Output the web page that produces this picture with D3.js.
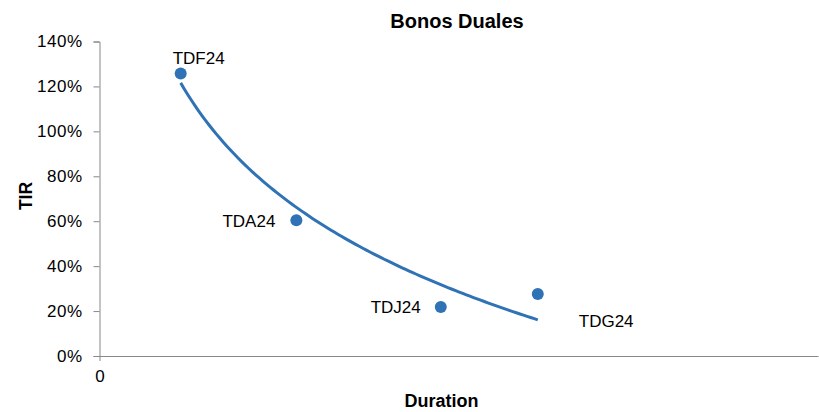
<!DOCTYPE html>
<html>
<head>
<meta charset="utf-8">
<script src="https://cdn.jsdelivr.net/npm/d3@7"></script>
<style>
  body { margin: 0; background: #fff; }
  text { font-family: "Liberation Sans", Arial, Helvetica, sans-serif; fill: #000; }
</style>
</head>
<body>
<div id="chart"></div>
<script>
"use strict";

// bonos duales: duration (years) vs TIR
let bonds = ["TDF24", "TDA24", "TDJ24", "TDG24"];
let duration = [0.113, 0.274, 0.475, 0.610];
let tir = [1.258, 0.604, 0.218, 0.276];
let yTicks = [0, 0.2, 0.4, 0.6, 0.8, 1.0, 1.2, 1.4];
let xTicks = [0];

let width = 819, height = 412;
let margin = { top: 41.5, right: 1, bottom: 56, left: 99.5 };

let svg = d3.select("#chart")
    .append("svg")
    .attr("width", width)
    .attr("height", height);

let x = d3.scaleLinear().domain([0, 1]).range([margin.left, width - margin.right]);
let y = d3.scaleLinear().domain([0, 1.4]).range([height - margin.bottom, margin.top]);

// axes
let yAxis = svg.append("g")
    .attr("transform", `translate(${margin.left},0)`)
    .call(d3.axisLeft(y).tickValues(yTicks).tickFormat(d3.format(".0%")).tickSize(6).tickPadding(11));
yAxis.selectAll("line, path").attr("stroke", "#888");
yAxis.selectAll("text")
    .attr("font-size", 17)
    .attr("letter-spacing", 0.5)
    .style("font-family", "Liberation Sans, Arial, sans-serif");

let xAxis = svg.append("g")
    .attr("transform", `translate(0,${y(0)})`)
    .call(d3.axisBottom(x).tickValues(xTicks).tickFormat(d3.format("d")).tickSize(5).tickSizeOuter(0).tickPadding(9));
xAxis.selectAll("line, path").attr("stroke", "#888");
xAxis.selectAll("text").attr("font-size", 17).style("font-family", "Liberation Sans, Arial, sans-serif");

// logarithmic trendline (least squares y = a + b ln x)
let lx = duration.map(Math.log);
let mx = d3.mean(lx), my = d3.mean(tir);
let b = d3.sum(lx, (v, i) => (v - mx) * (tir[i] - my)) / d3.sum(lx, v => (v - mx) * (v - mx));
let a = my - b * mx;
let xs = d3.range(0, 101).map(i => duration[0] + (duration[3] - duration[0]) * i / 100);

svg.append("path")
    .datum(xs)
    .attr("fill", "none")
    .attr("stroke", "#2f72b5")
    .attr("stroke-width", 3)
    .attr("d", d3.line().x(d => x(d)).y(d => y(a + b * Math.log(d))));

// points
svg.selectAll("circle.pt")
    .data(bonds)
    .join("circle")
    .attr("class", "pt")
    .attr("cx", (d, i) => x(duration[i]))
    .attr("cy", (d, i) => y(tir[i]))
    .attr("r", 6)
    .attr("fill", "#2f72b5");

// labels
let labelPos = [
    { dx: -8, dy: -9, anchor: "start" },
    { dx: -21, dy: 7, anchor: "end" },
    { dx: -20, dy: 6, anchor: "end" },
    { dx: 41, dy: 33, anchor: "start" }
];
svg.selectAll("text.lbl")
    .data(bonds)
    .join("text")
    .attr("class", "lbl")
    .attr("x", (d, i) => x(duration[i]) + labelPos[i].dx)
    .attr("y", (d, i) => y(tir[i]) + labelPos[i].dy)
    .attr("text-anchor", (d, i) => labelPos[i].anchor)
    .attr("font-size", 17)
    .text(d => d);

// titles
svg.append("text")
    .attr("x", 457)
    .attr("y", 28)
    .attr("text-anchor", "middle")
    .attr("font-size", 20)
    .attr("font-weight", "bold")
    .text("Bonos Duales");

svg.append("text")
    .attr("transform", "translate(32,196) rotate(-90)")
    .attr("text-anchor", "middle")
    .attr("font-size", 17.5)
    .attr("font-weight", "bold")
    .text("TIR");

svg.append("text")
    .attr("x", 441.5)
    .attr("y", 407)
    .attr("text-anchor", "middle")
    .attr("font-size", 18)
    .attr("font-weight", "bold")
    .text("Duration");
</script>
</body>
</html>
